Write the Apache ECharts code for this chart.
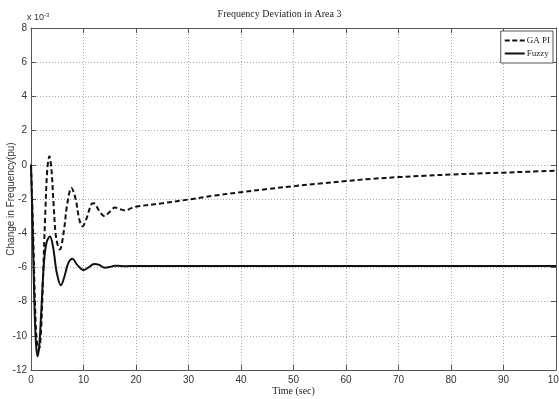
<!DOCTYPE html>
<html><head><meta charset="utf-8">
<script src="https://cdn.jsdelivr.net/npm/echarts@6/dist/echarts.min.js"></script>
<style>html,body{margin:0;padding:0;background:#fff}#c{width:559px;height:399px}</style>
</head><body><div id="c"></div>
<script>
const xTicks = [0,10,20,30,40,50,60,70,80,90,100];
const yTicks = [-12,-10,-8,-6,-4,-2,0,2,4,6,8];
const gaT = [0,0.4,0.8,1.1,1.5,1.9,2.3,2.7,3.1,3.5,3.9,4.3,4.8,5.5,6.2,6.9,7.7,8.5,9.2,9.8,10.5,11.5,12,13,14,15,16,17,18,19,20,25,30,35,40,45,50,55,60,65,70,75,80,85,90,95,100];
const gaV = [0,-4,-8.5,-10.3,-10.8,-9.8,-6.5,-3,-0.3,0.5,-0.3,-2.3,-4.3,-4.95,-4.0,-2.3,-1.35,-2.0,-3.2,-3.6,-3.2,-2.3,-2.25,-2.7,-3.0,-2.75,-2.5,-2.6,-2.67,-2.55,-2.45,-2.25,-2.03,-1.8,-1.6,-1.42,-1.25,-1.1,-0.95,-0.82,-0.72,-0.64,-0.57,-0.51,-0.46,-0.4,-0.35];
const fzT = [0,0.3,0.6,0.9,1.25,1.6,2.0,2.5,3.0,3.6,4.2,4.9,5.7,6.4,7.1,7.9,8.8,10,11,12,13,14,15,16,17,18,20,100];
const fzV = [0,-3.5,-7.5,-10.2,-11.2,-10.5,-8.3,-5.6,-4.5,-4.2,-4.8,-6.3,-7.05,-6.5,-5.75,-5.5,-5.85,-6.15,-6.0,-5.8,-5.85,-6.02,-5.98,-5.9,-5.92,-5.93,-5.92,-5.92];

const chart = echarts.init(document.getElementById('c'));
const labFont = {fontFamily:'Liberation Sans Narrow, Arial Narrow, Liberation Sans, sans-serif', fontSize:10, color:'#333'};
const gridLine = {show:true, lineStyle:{type:[1,2], color:'#aaa', width:1}};
const axLine = {show:true, onZero:false, lineStyle:{color:'#555', width:1}};
const tick = {show:true, inside:true, length:5, lineStyle:{color:'#555'}};
chart.setOption({
  animation:false,
  backgroundColor:'#fff',
  title:{text:'Frequency Deviation in Area 3', left:'center', top:4,
    textStyle:{fontFamily:'Liberation Serif, serif', fontSize:10, fontWeight:'normal', color:'#222'}},
  legend:{orient:'vertical', right:6, top:31, itemWidth:20, itemHeight:2, itemGap:4,
    padding:[5,3,5,4], backgroundColor:'#fff', borderColor:'#555', borderWidth:1, borderRadius:0,
    textStyle:{fontFamily:'Liberation Serif, serif', fontSize:9, color:'#222', padding:[0,0,0,-3]},
    data:[{name:'GA PI', icon:'path://M0,0h5v2h-5z M7.5,0h5v2h-5z M15,0h5v2h-5z'},
          {name:'Fuzzy', icon:'path://M0,0h20v2h-20z'}]},
  grid:{left:31, right:3, top:28, bottom:29, outerBoundsMode:'none', containLabel:false},
  xAxis:[{type:'value', min:0, max:100, interval:10, position:'bottom',
      axisLine:axLine, axisTick:tick,
      axisLabel:Object.assign({margin:5}, labFont),
      splitLine:gridLine,
      name:'Time (sec)', nameLocation:'middle', nameGap:16, nameMoveOverlap:false,
      nameTextStyle:{fontFamily:'Liberation Serif, serif', fontSize:10, color:'#222'}},
    {type:'value', min:0, max:100, interval:10, position:'top',
      axisLine:axLine, axisTick:tick, axisLabel:{show:false}, splitLine:{show:false}}],
  yAxis:[{type:'value', min:-12, max:8, interval:2, position:'left',
      axisLine:axLine, axisTick:tick,
      axisLabel:Object.assign({margin:4}, labFont),
      splitLine:gridLine,
      name:'Change in Frequency(pu)', nameLocation:'middle', nameGap:15, nameMoveOverlap:false,
      nameTextStyle:{fontFamily:'Liberation Sans, sans-serif', fontSize:10, color:'#333'}},
    {type:'value', min:-12, max:8, interval:2, position:'right',
      axisLine:axLine, axisTick:tick, axisLabel:{show:false}, splitLine:{show:false}}],
  graphic:[{type:'text', left:27, top:12, style:{rich:{a:{fontSize:9, fontFamily:'Liberation Sans Narrow, sans-serif', fill:'#333'}, b:{fontSize:6, fontFamily:'Liberation Sans Narrow, sans-serif', fill:'#333', verticalAlign:'top', padding:[0,0,6,0]}}, text:'{a|x 10}{b|-3}'}}],
  series:[
    {name:'GA PI', type:'line', data:gaT.map((t,i)=>[t,gaV[i]]), smooth:0.35, showSymbol:false, symbol:'none',
      lineStyle:{color:'#111', width:2, type:[5,3]}, itemStyle:{color:'#111'}},
    {name:'Fuzzy', type:'line', data:fzT.map((t,i)=>[t,fzV[i]]), smooth:0.35, showSymbol:false, symbol:'none',
      lineStyle:{color:'#111', width:2}, itemStyle:{color:'#111'}}
  ]
});
</script></body></html>
